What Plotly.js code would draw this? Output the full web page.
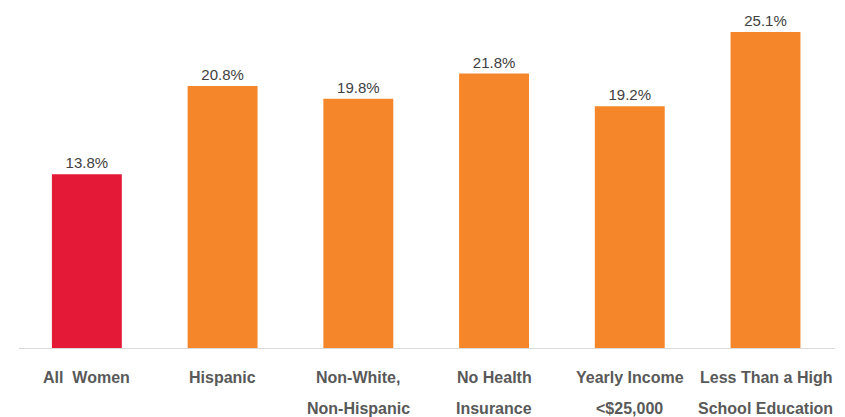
<!DOCTYPE html>
<html>
<head>
<meta charset="utf-8">
<script src="https://cdn.plot.ly/plotly-3.0.1.min.js"></script>
<style>html,body{margin:0;padding:0;background:#fff;}#chart{width:845px;height:417px;}</style>
</head>
<body>
<div id="chart"></div>
<script>
const categories = ["All  Women", "Hispanic", "Non-White,<br>Non-Hispanic", "No Health<br>Insurance", "Yearly Income<br><$25,000", "Less Than a High<br>School Education"];
const values = [13.8, 20.8, 19.8, 21.8, 19.2, 25.1];
const barColors = ["#E31937", "#F5862A", "#F5862A", "#F5862A", "#F5862A", "#F5862A"];

const labelFont = {family: "'Liberation Sans', Arial, sans-serif", size: 16, color: "#595959", weight: "bold"};

const trace = {
  type: "bar",
  x: categories,
  y: values,
  marker: {color: barColors},
  text: values.map(v => v.toFixed(1) + "%"),
  textposition: "outside",
  cliponaxis: false,
  textfont: {family: "'Liberation Sans', Arial, sans-serif", size: 15, color: "#404040"},
  hoverinfo: "none"
};

const annotations = [];
categories.forEach(c => {
  c.split("<br>").forEach((line, i) => {
    annotations.push({
      x: c, xref: "x", y: 0, yref: "paper",
      yanchor: "middle", xanchor: "center",
      yshift: -29 - 31 * i,
      text: line, showarrow: false,
      font: labelFont
    });
  });
});

const layout = {
  width: 845, height: 417,
  margin: {l: 19, r: 10, t: 0, b: 69},
  paper_bgcolor: "#fff", plot_bgcolor: "#fff",
  bargap: 0.485,
  showlegend: false,
  annotations: annotations,
  xaxis: {
    showline: true, linecolor: "#d9d9d9", linewidth: 1,
    ticks: "", showgrid: false, showticklabels: false
  },
  yaxis: {range: [0, 27.64], visible: false, showgrid: false, zeroline: false}
};

Plotly.newPlot("chart", [trace], layout, {displayModeBar: false, staticPlot: true});
</script>
</body>
</html>
